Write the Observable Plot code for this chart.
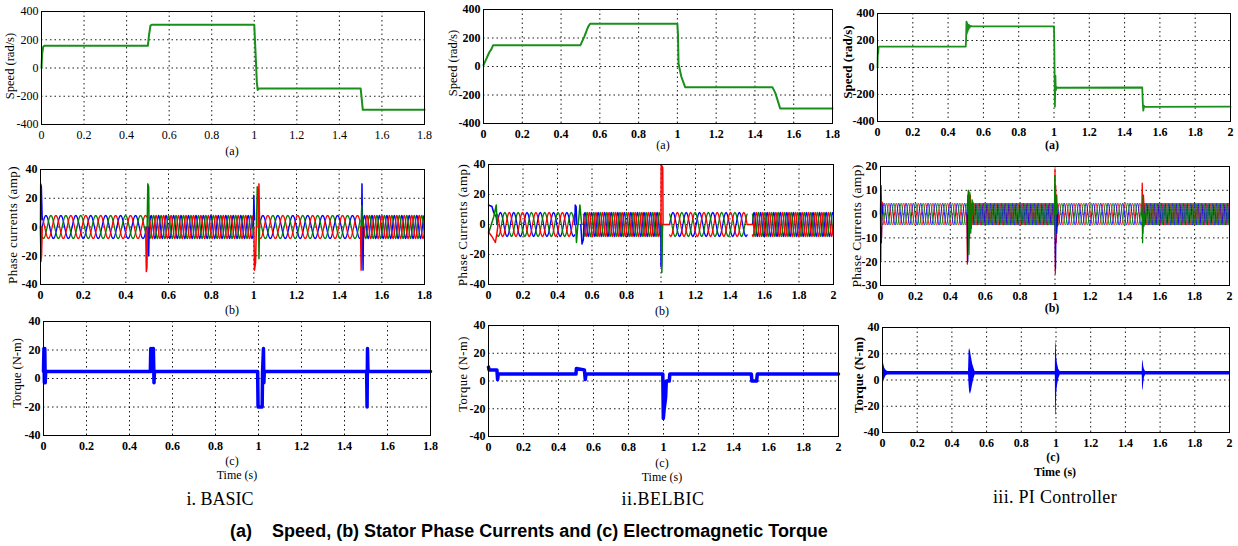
<!DOCTYPE html>
<html><head><meta charset="utf-8">
<script src="https://cdn.jsdelivr.net/npm/d3@7"></script>
<script src="https://cdn.jsdelivr.net/npm/@observablehq/plot@0.6"></script>
<style>
body{margin:0;background:#fff;}
#fig{position:relative;width:1238px;height:546px;overflow:hidden;background:#fff;font-family:"Liberation Serif","DejaVu Serif",serif;color:#000;}
.lbl{position:absolute;transform:translate(-50%,-50%);white-space:pre;line-height:1;font-family:"Liberation Serif","DejaVu Serif",serif;}
.ylbl{position:absolute;transform:translate(-50%,-50%) rotate(-90deg);white-space:nowrap;line-height:1;font-family:"Liberation Serif","DejaVu Serif",serif;}
svg text{font-family:"Liberation Serif","DejaVu Serif",serif;}
</style></head><body><div id="fig"></div>
<script>
// ---------- ticks ----------
const xTicks18 = [0, 0.2, 0.4, 0.6, 0.8, 1, 1.2, 1.4, 1.6, 1.8];
const xTicks2 = [0, 0.2, 0.4, 0.6, 0.8, 1, 1.2, 1.4, 1.6, 1.8, 2];
const speedTicks = [-400, -200, 0, 200, 400];
const currentTicks = [-40, -20, 0, 20, 40];
const piCurrentTicks = [-30, -20, -10, 0, 10, 20];
const torqueTicks = [-40, -20, 0, 20, 40];

// ---------- speed (rad/s) ----------
const basicSpeed = [[0,0],[0.003,100],[0.008,150],[0.012,157],[0.5,158],[0.505,230],[0.512,300],[0.518,306],[1.0,306],[1.003,200],[1.008,40],[1.012,-100],[1.016,-155],[1.022,-145],[1.5,-145],[1.505,-220],[1.51,-296],[1.8,-296]];
const belbicSpeed = [[0,10],[0.01,40],[0.02,70],[0.03,100],[0.04,120],[0.05,150],[0.5,150],[0.52,210],[0.54,280],[0.55,300],[1.0,300],[1.003,220],[1.006,20],[1.02,-70],[1.04,-145],[1.49,-145],[1.505,-185],[1.52,-250],[1.53,-295],[1.8,-295]];
const piSpeed = [[0,0],[0.002,150],[0.004,100],[0.006,150],[0.01,155],[0.5,155],[0.502,210],[0.504,340],[0.506,250],[0.508,330],[0.51,265],[0.512,320],[0.515,280],[0.518,315],[0.522,295],[0.527,308],[0.535,305],[1.0,305],[1.002,140],[1.005,-290],[1.008,-60],[1.01,-170],[1.014,-145],[1.02,-150],[1.5,-148],[1.503,-260],[1.506,-320],[1.51,-285],[1.515,-292],[2.0,-290]];

// ---------- phase currents: steady segments ----------
const basicSegStart = [0.008, 0.51, 1.025, 1.51];
const basicSegEnd = [0.5, 1.0, 1.5, 1.8];
const basicSegPeriod = [0.07, 0.035, 0.07, 0.035];
const basicSegSeq = [1, 1, -1, -1];
const basicAmp = 8;

const belbicSegStart = [0.05, 0.55, 1.05, 1.53];
const belbicSegEnd = [0.5, 1.0, 1.5, 2.0];
const belbicSegPeriod = [0.077, 0.038, 0.077, 0.038];
const belbicSegSeq = [1, 1, -1, -1];
const belbicAmp = 8;

const piSegStart = [0.01, 0.5, 1.0, 1.5];
const piSegEnd = [0.5, 1.0, 1.5, 2.0];
const piSegPeriod = [0.042, 0.021, 0.042, 0.021];
const piSegSeq = [1, 1, -1, -1];
const piAmp = 4.6;

// transients (spikes) per phase: lists of events, each a list of [t, i]
const basicBlueSpikes = [[[0,0],[0.001,30],[0.004,28],[0.008,5]], [[0.505,0],[0.507,-20],[0.51,0]], [[0.998,0],[1.0,22],[1.003,5]], [[1.505,0],[1.507,30],[1.509,0],[1.512,-30],[1.514,0]]];
const basicGreenSpikes = [[[0,0],[0.002,-20],[0.006,0]], [[0.5,0],[0.503,30],[0.507,28],[0.509,0]], [[1.012,0],[1.016,28],[1.021,26],[1.024,-22],[1.027,0]], [[1.503,0],[1.506,15],[1.509,0]]];
const basicRedSpikes = [[[0,0],[0.002,-24],[0.005,-20],[0.008,0]], [[0.493,0],[0.496,-31],[0.499,-28],[0.502,0]], [[1.0,0],[1.003,-30],[1.008,-25],[1.012,0]], [[1.02,0],[1.024,30],[1.027,0]], [[1.5,0],[1.503,-30],[1.506,0]]];

const belbicBlueSpikes = [[[0,13],[0.02,12],[0.03,8],[0.045,5],[0.05,0]], [[0.5,0],[0.503,13],[0.508,12],[0.512,0]], [[0.535,0],[0.542,-13],[0.55,-10],[0.553,0]], [[0.999,0],[1.0,-28],[1.003,-28],[1.006,0]]];
const belbicGreenSpikes = [[[0,-6],[0.03,5],[0.045,13],[0.05,0]], [[0.505,0],[0.51,-12],[0.518,0]], [[0.52,0],[0.53,13],[0.54,0]], [[1.002,0],[1.005,-32],[1.008,-5],[1.01,0]]];
const belbicRedSpikes = [[[0,-5],[0.02,-8],[0.04,-12],[0.05,-5],[0.055,0]], [[1.0,0],[1.001,40],[1.01,38],[1.012,0],[1.05,0]], [[1.5,0],[1.53,0]]];

const piBlueSpikes = [[[0,0],[0.003,12],[0.005,-12],[0.008,4],[0.012,0]], [[0.497,0],[0.5,-20],[0.503,6],[0.508,-10],[0.514,0]], [[1.0,0],[1.003,-23],[1.006,5],[1.01,-8],[1.015,0]], [[1.5,0],[1.503,-8],[1.507,4],[1.51,0]]];
const piGreenSpikes = [[[0,0],[0.001,11],[0.004,-5],[0.008,0]], [[0.5,0],[0.503,10],[0.507,-17],[0.512,9],[0.517,-8],[0.525,6],[0.53,0]], [[0.997,0],[0.999,16],[1.002,-10],[1.006,8],[1.01,0]], [[1.5,0],[1.502,-12],[1.505,8],[1.51,-5],[1.515,0]]];
const piRedSpikes = [[[0,0],[0.002,-20],[0.004,8],[0.006,-10],[0.01,5],[0.014,0]], [[0.495,0],[0.498,-21],[0.5,8],[0.503,-15],[0.506,10],[0.51,-10],[0.515,8],[0.52,-6],[0.53,5],[0.535,0]], [[0.998,0],[1.0,19],[1.002,-25],[1.004,12],[1.007,-12],[1.01,8],[1.015,-5],[1.02,0]], [[1.497,0],[1.5,13],[1.503,-5],[1.507,8],[1.512,0]]];

// ---------- torque (N-m) ----------
const basicTorque = [[0,5],[0.002,21],[0.004,-3],[0.006,21],[0.008,-3],[0.01,5],[0.497,5],[0.499,21],[0.502,5],[0.505,21],[0.508,5],[0.511,21],[0.514,-3],[0.516,5],[0.996,5],[0.998,-20],[1.017,-20],[1.019,5],[1.023,21],[1.025,-3],[1.027,5],[1.503,5],[1.505,-20],[1.507,21],[1.509,5],[1.8,5]];
const belbicTorque = [[0,10],[0.003,8],[0.048,8],[0.052,1],[0.056,5],[0.5,5],[0.502,9],[0.548,8],[0.553,1],[0.557,5],[0.996,5],[0.999,-27],[1.004,-20],[1.012,-12],[1.016,0],[1.033,0],[1.036,5],[1.502,5],[1.505,0],[1.532,0],[1.536,5],[2,5]];
// PI torque envelope: [t, low, high]
const piTorqueEnvelope = [[0,-8,20],[0.003,-6,18],[0.007,-1,12],[0.013,1,9],[0.02,3,7.5],[0.03,3.8,6.5],[0.496,3.8,6.5],[0.499,-4,22],[0.502,-9,24],[0.507,-11,22],[0.513,-8,17],[0.52,-3,12],[0.527,1,9],[0.534,3.8,6.5],[0.996,3.8,6.5],[0.998,-27,29],[1.001,-26,27],[1.004,-10,17],[1.009,-4,12],[1.016,1,8],[1.024,3.8,6.5],[1.497,3.8,6.5],[1.499,-8,15],[1.502,-7,14],[1.506,-2,10],[1.51,2,8],[1.516,3.8,6.5],[2,3.8,6.5]];

// ---------- helpers ----------
const BLUE = "#0000ff", GREEN = "#008000", RED = "#ff0000", SPEED = "#1a8f1a";
const SERIF = '"Liberation Serif", "DejaVu Serif", serif';
const fig = document.getElementById("fig");

function sineSeries(starts, ends, periods, seqs, amp, k) {
  const out = [];
  starts.forEach((s, i) => {
    const e = ends[i], T = periods[i], step = T / 24;
    for (let t = s; t <= e + 1e-9; t += step) {
      out.push({t, v: amp * Math.sin(2 * Math.PI * (t - s) / T - seqs[i] * k * 2 * Math.PI / 3), seg: i});
    }
  });
  return out;
}
function spikeMarks(events, color, sw) {
  return events.map(ev => Plot.line(ev, {x: d => d[0], y: d => d[1], stroke: color, strokeWidth: sw}));
}
function currentMarks(starts, ends, periods, seqs, amp, sw, order) {
  const cols = [BLUE, GREEN, RED];
  return (order || [0, 1, 2]).map(k => Plot.line(sineSeries(starts, ends, periods, seqs, amp, k), {x: "t", y: "v", z: "seg", stroke: cols[k], strokeWidth: sw}));
}

function panel(c) {
  const ml = 36, mr = 12, mt = 8, mb = 22;
  const fw = c.x2 - c.x1, fh = c.y2 - c.y1;
  const fw8 = c.bold ? "bold" : "normal";
  const svg = Plot.plot({
    width: fw + ml + mr, height: fh + mt + mb,
    marginLeft: ml, marginRight: mr, marginTop: mt, marginBottom: mb,
    x: {domain: c.xDomain},
    y: {domain: c.yDomain},
    style: {fontFamily: SERIF, fontSize: c.fs || "12px", fontWeight: fw8, background: "transparent", overflow: "visible", color: "#000"},
    marks: [
      Plot.ruleX(c.xTicks, {stroke: "#000", strokeDasharray: "1.5,3", strokeWidth: 0.9}),
      Plot.ruleY(c.yTicks, {stroke: "#000", strokeDasharray: "1.5,3", strokeWidth: 0.9}),
      ...c.marks,
      Plot.frame({stroke: "#000", strokeWidth: 1}),
      Plot.axisX({ticks: c.xTicks, tickSize: 0, tickPadding: 6, tickFormat: d => String(d), label: null, fontFamily: SERIF, fontWeight: fw8}),
      Plot.axisY({ticks: c.yTicks, tickSize: 0, tickPadding: 3, tickFormat: d => String(d), label: null, fontFamily: SERIF, fontWeight: fw8})
    ]
  });
  svg.style.position = "absolute";
  svg.style.left = (c.x1 - ml) + "px";
  svg.style.top = (c.y1 - mt) + "px";
  fig.appendChild(svg);
}
function text(str, x, y, size, extra) {
  const d = document.createElement("div");
  d.className = "lbl";
  d.textContent = str;
  d.style.left = x + "px"; d.style.top = y + "px"; d.style.fontSize = size + "px";
  if (extra) Object.assign(d.style, extra);
  fig.appendChild(d);
}
function ylabel(str, x, y, size, extra) {
  const d = document.createElement("div");
  d.className = "ylbl";
  d.textContent = str;
  d.style.left = x + "px"; d.style.top = y + "px"; d.style.fontSize = size + "px";
  if (extra) Object.assign(d.style, extra);
  fig.appendChild(d);
}
const line2 = (data, color, sw) => Plot.line(data, {x: d => d[0], y: d => d[1], stroke: color, strokeWidth: sw});

// ---------- row 1: speed ----------
panel({x1: 41, x2: 424, y1: 11, y2: 124, xDomain: [0, 1.8], yDomain: [-400, 400], xTicks: xTicks18, yTicks: speedTicks,
  marks: [line2(basicSpeed, SPEED, 2)]});
panel({x1: 483, x2: 832, y1: 9, y2: 123, xDomain: [0, 1.8], yDomain: [-400, 400], xTicks: xTicks18, yTicks: speedTicks, bold: true,
  marks: [line2(belbicSpeed, SPEED, 2)]});
panel({x1: 877, x2: 1230, y1: 13, y2: 121, xDomain: [0, 2], yDomain: [-400, 400], xTicks: xTicks2, yTicks: speedTicks, bold: true,
  marks: [line2(piSpeed, SPEED, 1.8)]});

// ---------- row 2: phase currents ----------
panel({x1: 40, x2: 424, y1: 169, y2: 284, xDomain: [0, 1.8], yDomain: [-40, 40], xTicks: xTicks18, yTicks: currentTicks, bold: true,
  marks: [...currentMarks(basicSegStart, basicSegEnd, basicSegPeriod, basicSegSeq, basicAmp, 1.3),
    ...spikeMarks(basicBlueSpikes, BLUE, 1.5), ...spikeMarks(basicGreenSpikes, GREEN, 1.5), ...spikeMarks(basicRedSpikes, RED, 1.5)]});
panel({x1: 488, x2: 833, y1: 164, y2: 284, xDomain: [0, 2], yDomain: [-40, 40], xTicks: xTicks2, yTicks: currentTicks, bold: true,
  marks: [...currentMarks(belbicSegStart, belbicSegEnd, belbicSegPeriod, belbicSegSeq, belbicAmp, 1.3),
    ...spikeMarks(belbicBlueSpikes, BLUE, 1.5), ...spikeMarks(belbicGreenSpikes, GREEN, 1.5), ...spikeMarks(belbicRedSpikes, RED, 1.5)]});
panel({x1: 880, x2: 1229, y1: 166, y2: 285, xDomain: [0, 2], yDomain: [-30, 20], xTicks: xTicks2, yTicks: piCurrentTicks, bold: true,
  marks: [...currentMarks(piSegStart, piSegEnd, piSegPeriod, piSegSeq, piAmp, 0.9, [2, 0, 1]),
    ...spikeMarks(piRedSpikes, RED, 1.3), ...spikeMarks(piBlueSpikes, BLUE, 1.3), ...spikeMarks(piGreenSpikes, GREEN, 1.3)]});

// ---------- row 3: torque ----------
panel({x1: 43, x2: 430, y1: 321, y2: 435, xDomain: [0, 1.8], yDomain: [-40, 40], xTicks: xTicks18, yTicks: torqueTicks, bold: true,
  marks: [line2(basicTorque, BLUE, 3.5)]});
panel({x1: 488, x2: 838, y1: 325, y2: 436, xDomain: [0, 2], yDomain: [-40, 40], xTicks: xTicks2, yTicks: torqueTicks, bold: true,
  marks: [line2(belbicTorque, BLUE, 3.5)]});
panel({x1: 882, x2: 1229, y1: 327, y2: 432, xDomain: [0, 2], yDomain: [-40, 40], xTicks: xTicks2, yTicks: torqueTicks, bold: true,
  marks: [Plot.areaY(piTorqueEnvelope, {x: d => d[0], y1: d => d[1], y2: d => d[2], fill: BLUE}),
          Plot.line(piTorqueEnvelope, {x: d => d[0], y: d => (d[1] + d[2]) / 2, stroke: BLUE, strokeWidth: 1})]});

// ---------- axis titles ----------
ylabel("Speed (rad/s)", 10, 66, 12.5);
ylabel("Speed (rad/s)", 453, 63, 12.5);
ylabel("Speed (rad/s)", 847, 62, 13, {fontWeight: "bold"});
ylabel("Phase currents (amp)", 12, 225, 13, {letterSpacing: "0.4px"});
ylabel("Phase Currents (amp)", 462, 225, 13, {letterSpacing: "0.5px"});
ylabel("Phase Currents (amp)", 857, 226, 13.5, {letterSpacing: "0.3px"});
ylabel("Torque (N-m)", 17, 373, 12.5);
ylabel("Torque (N-m)", 463, 374, 12.5, {letterSpacing: "0.5px"});
ylabel("Torque (N-m)", 858, 375, 13, {fontWeight: "bold"});

// ---------- panel letters ----------
text("(a)", 232, 151, 12);
text("(a)", 663, 145, 12);
text("(a)", 1052, 145, 12, {fontWeight: "bold"});
text("(b)", 232, 310, 12);
text("(b)", 662, 311, 12);
text("(b)", 1052, 308, 12, {fontWeight: "bold"});
text("(c)", 232, 461, 12);
text("(c)", 662, 463, 12);
text("(c)", 1053, 457, 12, {fontWeight: "bold"});
text("Time (s)", 237, 475, 12);
text("Time (s)", 662, 477, 12);
text("Time (s)", 1055, 472, 12, {fontWeight: "bold"});

// ---------- column titles & caption ----------
text("i. BASIC", 220, 499, 18);
text("ii.BELBIC", 663, 499, 18, {letterSpacing: "0.5px"});
text("iii. PI Controller", 1055, 497, 18, {letterSpacing: "0.3px"});
text("(a)    Speed, (b) Stator Phase Currents and (c) Electromagnetic Torque", 529, 531, 18, {fontFamily: '"Liberation Sans", Arial, sans-serif', fontWeight: "bold"});
</script></body></html>
